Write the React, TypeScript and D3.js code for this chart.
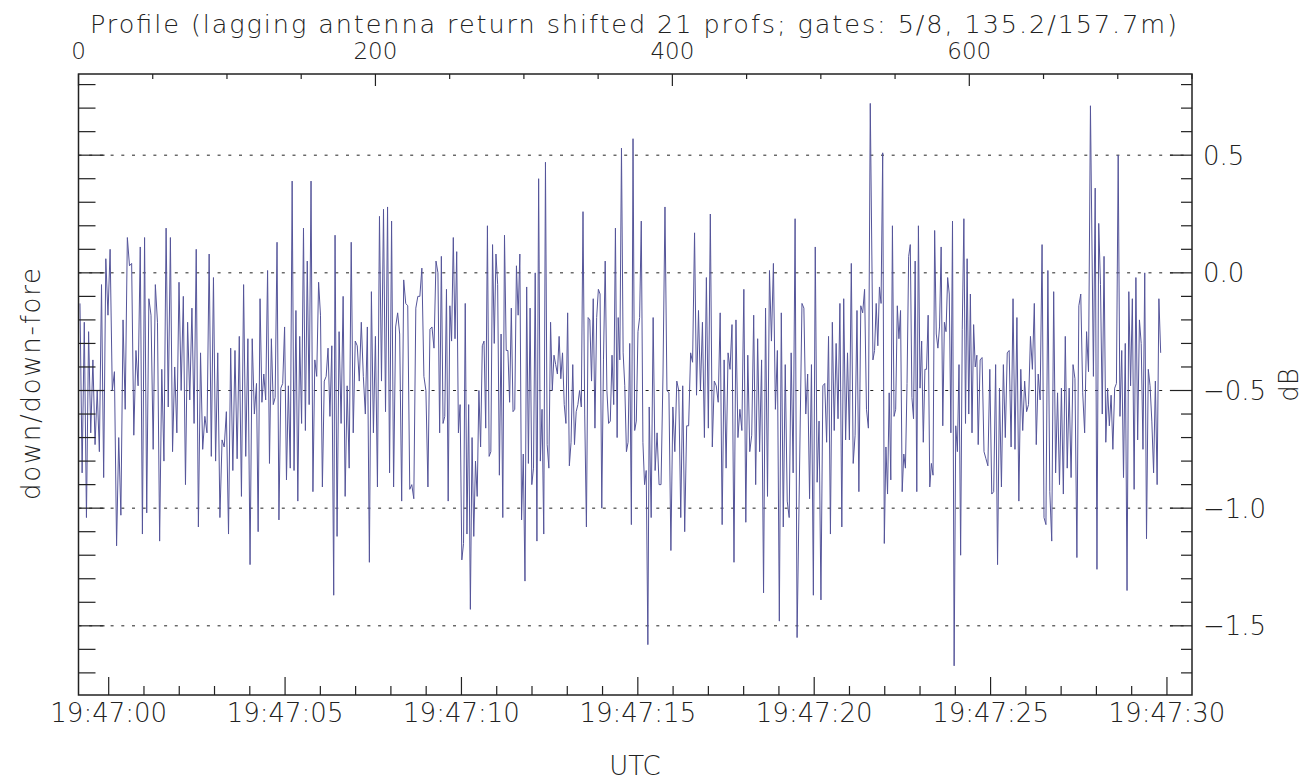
import * as d3 from "d3";

// Values (dB), in stretches along the profile axis.
const seg1 = [-0.13,-0.85,-0.21,-1.04,-0.25,-0.68,-0.37,-0.73,-0.50,-0.76,-0.05,-0.87,0.06,-0.18,0.10,-0.50,-0.42,-1.16,-0.70,-1.03,-0.20,-0.58,0.15,0.03,0.04,-0.69,-0.33,-0.48,0.11,-1.11,0.15,-1.02,-0.11,-0.18,-0.75,-0.05,-0.21,-1.14,-0.41,-0.80,0.19,-0.57,0.15,-0.76,-0.40,-0.68,-0.04,-0.50,-0.10,-0.90,-0.21,-0.54,-0.15,-0.64,0.10,-1.08,-0.34,-0.75,-0.61,-0.68,0.08,-0.78,-0.02,-0.80,-0.34,-1.04,-0.71,-0.74,-0.59,-1.11,-0.32,-0.84,-0.33,-0.79,-0.27,-0.95,-0.05,-0.78,-0.28,-1.24,-0.28,-0.60,-0.47];
const seg2a = [-1.10,-0.11,-0.55,-0.43,-0.54,0.01,-0.81,-0.28,-0.56,-0.53,0.13,-1.05,-0.49,-0.47,-0.23,-0.88,-0.48,-0.83,0.39,-0.84,-0.16,-0.97,-0.27,-0.64,0.19,-0.67,0.05,-0.56,0.39,-0.93,-0.37,-0.44,-0.04,-0.18,-0.91,-0.46,-0.44,-0.32,-0.61,-0.31,-1.37];
const seg2b = [0.16,-1.12,-0.25,-0.64,-0.10,-0.95,-0.48,-0.83,0.13,-0.68,-0.29,-0.31,-0.46,-0.21,-0.44,-0.60,-0.23,-1.23,-0.08,-0.68,-0.27,-0.91,0.24,-0.46,0.27,-0.59,0.28,-0.85,0.22,-0.91,-0.23,-0.17,-0.26,-0.97,-0.03,-0.13,-0.14,-0.92,-0.90,-0.96,-0.15,-0.10,-0.10,0.02,-0.44,-0.50,-0.91,-0.24,-0.23,-0.32,0.05];
const seg3 = [0.00,-0.68,0.07,-0.64,-0.61,-0.07,-0.97,-0.14,-0.29,0.15,-0.28,0.09,-0.68,-0.56,-1.22,-1.15,-0.13,-1.11,-0.56,-1.43,-0.70,-1.12,-0.80,-0.95,-0.50,-0.74,-0.31,-0.29,-0.66,0.20,-0.78,-0.76,0.12,-0.30,0.08,-0.05,-0.86,-0.26,-1.04,0.16,-0.33,-0.33,-0.55,-0.15,-0.59,-0.58,0.03,-0.18,0.08,-1.05,-0.77,-1.31,-0.06,-0.81,-0.15,-0.90,-0.83,0.00,-1.14,0.40,-0.80,-0.58,-1.11,0.47,-0.73,-0.83,-0.21,-0.50,-0.35,-0.39,-0.43,-0.27,-0.45,-0.34,-0.56,-0.64,-0.17,-0.82,-0.72,-0.39,-0.73,-0.59,-0.56,-0.50,-0.57,0.26,-0.60,-1.08,-0.19,-0.20,-0.46,-0.11,-0.66,-0.19,-0.07,-0.09,-1.00,-0.37,0.05,-0.50,-0.64,-0.63,-0.35,-0.56,0.19,-0.70];
const seg4a = [-0.19,-0.37,0.53,-0.34,-0.48,-0.76,-0.72,-0.30,-1.07,0.57,-0.67,-0.63,-0.25,-0.19,0.22,-0.72,-0.90,-0.84,-1.58];
const seg4b = [-0.57,-1.04,-0.19,-0.84,-0.68,-0.90,-0.90,-0.43,0.28,-0.50,-0.51,-1.18,-0.57,-0.76,-0.46,-0.50,-1.04,-0.48,-1.10,-0.65,-0.65,-0.34,-0.38,0.17,-0.52,-0.16,-0.50,-0.21,-0.70,-0.02,-0.66,0.25,-0.74,-0.46,-0.48,-0.55,-0.17,-1.07,-0.37,-0.83,-0.34,-0.41,-0.22,-1.23,-0.20,-0.70,-0.58,-0.67,-0.07,-1.06,-0.35,-0.76,-0.69,-0.18,-0.90,-0.28,-0.76,-0.37,-1.36,-0.15,-0.95,0.01,-0.29,0.04,-0.58,-0.33,-1.48,-0.17,-1.08,-0.39,-0.97,-1.04,-0.34,-0.85,0.23,-1.55];
const seg5a = [-0.13,-0.15,-0.60,-0.43,-0.96,-0.39,-1.37,0.11,-0.89,-0.63,-1.39,-0.48,-0.47,-0.72,-0.27,-1.11,-0.21,-0.67,-0.30,-0.62,-0.13,-1.08,-0.11,-0.71,-0.34,-0.71,0.04,-0.81,-0.69,-0.16,-0.93,-0.14,-0.17,-0.07,-0.58,-0.66,0.72];
const seg5b = [-0.37,-0.33,-0.13,-0.31,-0.06,-0.13,0.51,-1.15,-0.74,-0.94,-0.51,-0.88,0.20,-0.61,-0.58,-0.14,-0.28,-0.16,-0.93,-0.77,-0.83,-0.47,0.07,0.12,-0.53,-0.62,0.05,-0.93,0.20,-0.49,-0.29,-0.72,-0.41,-0.41,-0.18,-0.91,-0.81,-0.86,0.18,-0.26,-0.32,-0.23,0.11,-0.65,-0.21,-0.25,-0.02,-0.09,-0.68,0.22,-1.67,-0.65,-0.76,-0.39,-1.20,-0.24,0.23,-0.64,0.06,-0.60,-0.09,-0.68,-0.22,-0.40,-0.35];
const seg6a = [-0.73,-0.37,-0.36,-0.76,-0.79,-0.82,-0.41,-0.94,-0.93,-0.39,-1.24,-0.49,-0.91,-0.39,-0.70,-0.34,-0.33,-0.74,-0.11,-0.75,-0.19,-0.97,-0.41,-0.67,-0.46,-0.59,-0.56,-0.27,-0.41,-0.13,-0.73,-0.43,-0.54,0.12,-1.04,-1.07,0.01,-0.93,-1.14,-0.08,-0.85,-0.51,-0.90,-0.49,-0.94,-0.27,-0.83,-0.49,-0.87,-0.39,-0.45,-1.21,-0.14,-0.09,-0.51,-0.68,-0.25,-0.42,0.71];
const seg6b = [-0.44,0.36,-1.26,0.21,-0.05,-0.60,0.07,-0.72,-0.49,-0.65,-0.52,-0.75,-0.49,-0.47,0.50,-0.61,-0.33,-0.87,-0.30,-1.35,-0.08,-0.48,-0.11,-0.92,-0.02,-0.71,-0.20,-0.30,-0.75,0.00,-1.13,-0.41,-0.48,-0.63,-0.85,-0.46,-0.90,-0.11,-0.34];

// profile range covered by each stretch
const segments = [seg1, seg2a, seg2b, seg3, seg4a, seg4b, seg5a, seg5b, seg6a, seg6b];
const segProfiles = [
  [1.0, 119.9], [121.0, 171.9], [172.8, 240.8], [242.1, 362.8], [363.5, 383.5],
  [384.4, 484.0], [487.3, 533.3], [535.1, 605.1], [606.0, 681.6], [683.6, 728.9],
];

const profileTicks = [0, 200, 400, 600];
const dbTicks = [-1.5, -1.0, -0.5, 0.0, 0.5];

const FONT = "'DejaVu Sans', sans-serif";
const INK = "#222";
const LINE = "#55559a";

export default function App() {
  const left = 78.5, right = 1192, top = 74, bottom = 695;

  const xProf = d3.scaleLinear().domain([0, 750]).range([left, right]);
  const t0 = Date.UTC(2000, 0, 1, 19, 47, 0);
  const xTime = d3.scaleUtc().domain([new Date(t0 - 856), new Date(t0 + 30710)]).range([left, right]);
  const y = d3.scaleLinear().domain([-1.794, 0.845]).range([bottom, top]);

  const pts: [number, number][] = [];
  segments.forEach((vals, k) => {
    const [p0, p1] = segProfiles[k];
    vals.forEach((v, i) => pts.push([p0 + ((p1 - p0) * i) / (vals.length - 1), v]));
  });
  const path = d3.line<[number, number]>().x((d) => xProf(d[0])).y((d) => y(d[1]))(pts) || "";

  const minorY = d3.range(-17, 9).map((k) => k / 10);
  const isMajorY = (v: number) => Math.abs(v * 2 - Math.round(v * 2)) < 1e-6;
  const secTicks = d3.utcSecond.every(1)!.range(xTime.domain()[0], xTime.domain()[1]);
  const fmt = d3.utcFormat("%H:%M:%S");
  const profMinor = d3.range(0, 751, 50);
  const fmtDb = (v: number) => (v < 0 ? "\u2212" : "") + Math.abs(v).toFixed(1);

  return (
    <svg width={1316} height={780} style={{ position: "absolute", left: 0, top: 0, background: "#fff" }}
      fontFamily={FONT} fontWeight={200} fill={INK}>
      {/* dotted reference lines */}
      {dbTicks.map((v) => (
        <line key={"g" + v} x1={left} x2={right} y1={y(v)} y2={y(v)} stroke={INK} strokeWidth={1} strokeDasharray="3 7.7" />
      ))}

      <path d={path} fill="none" stroke={LINE} strokeWidth={1} />

      {/* left ticks */}
      {minorY.map((v) => (
        <line key={"l" + v} x1={left} x2={left + (isMajorY(v) ? 26 : 17)} y1={y(v)} y2={y(v)} stroke={INK} strokeWidth={1.2} />
      ))}
      {/* right ticks */}
      {minorY.map((v) => (
        <line key={"r" + v} x1={right} x2={right - (isMajorY(v) ? 22 : 11)} y1={y(v)} y2={y(v)} stroke={INK} strokeWidth={1.2} />
      ))}
      {/* bottom ticks */}
      {secTicks.map((t) => {
        const major = t.getUTCSeconds() % 5 === 0;
        return <line key={"b" + +t} x1={xTime(t)} x2={xTime(t)} y1={bottom} y2={bottom - (major ? 18 : 9)} stroke={INK} strokeWidth={1.2} />;
      })}
      {/* top ticks */}
      {profMinor.map((p) => (
        <line key={"t" + p} x1={xProf(p)} x2={xProf(p)} y1={top} y2={top + (p % 200 === 0 ? 12 : 5)} stroke={INK} strokeWidth={1.2} />
      ))}

      <rect x={left} y={top} width={right - left} height={bottom - top} fill="none" stroke={INK} strokeWidth={1.5} />

      {/* labels */}
      {secTicks.filter((t) => t.getUTCSeconds() % 5 === 0).map((t) => (
        <text key={"bl" + +t} x={xTime(t)} y={722} textAnchor="middle" fontSize={26}>{fmt(t)}</text>
      ))}
      {profileTicks.map((p) => (
        <text key={"tl" + p} x={xProf(p)} y={59} textAnchor="middle" fontSize={23}>{p}</text>
      ))}
      {dbTicks.map((v) => (
        <text key={"rl" + v} x={1203} y={y(v) + 9.5} fontSize={26}>{fmtDb(v)}</text>
      ))}

      <text x={633.5} y={33} textAnchor="middle" fontSize={25.5} textLength={1087} lengthAdjust="spacing">
        Profile (lagging antenna return shifted 21 profs; gates: 5/8, 135.2/157.7m)
      </text>
      <text x={635} y={775} textAnchor="middle" fontSize={26}>UTC</text>
      <text transform="translate(40,384) rotate(-90)" textAnchor="middle" fontSize={26} textLength={232} lengthAdjust="spacing">
        down/down-fore
      </text>
      <text transform="translate(1298,385) rotate(-90)" textAnchor="middle" fontSize={26}>dB</text>
    </svg>
  );
}
